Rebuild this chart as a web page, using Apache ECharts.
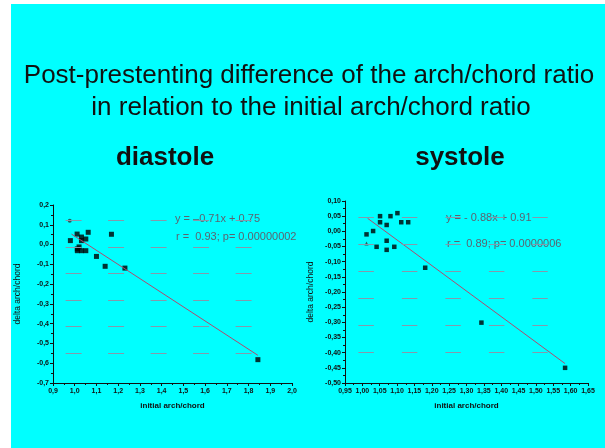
<!DOCTYPE html>
<html>
<head>
    <meta charset="utf-8">
    <title>arch/chord ratio</title>
    <script src="https://cdn.jsdelivr.net/npm/echarts@6/dist/echarts.min.js"></script>
    <style>
        body { margin: 0; background: #fff; }
    </style>
</head>
<body>
<div id="main" style="width: 605px;height:448px;"></div>
<script type="text/javascript">

    // diastole points (initial arch/chord, delta arch/chord)
    var diaX = [0.98, 1.011, 1.031, 1.051, 1.062, 1.031, 1.02, 1.012, 1.012, 1.031, 1.051, 1.10, 1.14, 1.169, 1.231, 1.843];
    var diaY = [0.02, 0.053, 0.038, 0.028, 0.062, 0.02, -0.012, -0.022, -0.031, -0.031, -0.031, -0.06, -0.11, 0.052, -0.119, -0.582];
    // systole points
    var sysX = [1.012, 1.031, 1.041, 1.051, 1.051, 1.070, 1.070, 1.070, 1.081, 1.092, 1.101, 1.112, 1.132, 1.181, 1.343, 1.584];
    var sysY = [-0.010, 0.001, -0.051, 0.050, 0.030, 0.021, -0.031, -0.061, 0.050, -0.051, 0.060, 0.030, 0.030, -0.120, -0.301, -0.450];
    // faint marks sitting on the dotted pattern
    var diaFaintX = [0.977], diaFaintY = [0.12];
    var sysFaintX = [1.012], sysFaintY = [-0.040];

    // regression lines as drawn
    var fitDiaX = [0.985, 1.843], fitDiaY = [0.053, -0.56];
    var fitSysX = [1.015, 1.584], fitSysY = [0.043, -0.436];

    // dotted background pattern rows
    var patDiaRows = [0.121, -0.014, -0.147, -0.282, -0.415, -0.548], patDiaSpan = [0.958, 1.815];
    var patSysRows = [0.048, -0.042, -0.130, -0.219, -0.310, -0.400], patSysSpan = [0.9885, 1.534];

    var dia = { xMin: 0.9, xMax: 2.0, xStep: 0.1, yMin: -0.7, yMax: 0.2, yStep: 0.1, dec: 1 };
    var sys = { xMin: 0.95, xMax: 1.65, xStep: 0.05, yMin: -0.5, yMax: 0.1, yStep: 0.05, dec: 2 };

    var eq = {
        dia: ['y = \u20130.71x + 0.75', 'r =  0.93; p= 0.00000002'],
        sys: ['y = - 0.88x + 0.91', 'r =  0.89; p= 0.0000006']
    };

    var patColor = '#8499ab';

    function zip(xs, ys) {
        return xs.map(function (x, i) { return [x, ys[i]]; });
    }

    function commaFmt(dec) {
        return function (v) {
            if (Math.abs(v) < 1e-9) v = 0;
            return v.toFixed(dec).replace('.', ',');
        };
    }

    function pattern(rows, span, dash) {
        var ls = {type: dash, color: patColor, width: 1, opacity: 1};
        return {
            silent: true,
            animation: false,
            symbol: ['none', 'none'],
            label: {show: false},
            itemStyle: {color: patColor},
            lineStyle: ls,
            emphasis: {disabled: true},
            data: rows.map(function (y) {
                return [{coord: [span[0], y], lineStyle: ls}, {coord: [span[1], y]}];
            })
        };
    }

    var axisLine = {show: true, onZero: false, lineStyle: {color: '#111', width: 1}};
    var tickFont = {color: '#111', fontSize: 7, fontWeight: 'bold', fontFamily: 'Liberation Sans'};

    function xAxis(idx, c) {
        return {
            type: 'value', gridIndex: idx,
            min: c.xMin, max: c.xMax, interval: c.xStep,
            name: 'initial arch/chord', nameLocation: 'middle', nameGap: 19,
            nameTextStyle: {color: '#111', fontSize: 8, fontWeight: 'bold', fontFamily: 'Liberation Sans'},
            axisLine: axisLine,
            axisTick: {show: true, length: 3, lineStyle: {color: '#111'}},
            minorTick: {show: true, splitNumber: 2, length: 2, lineStyle: {color: '#111'}},
            axisLabel: Object.assign({margin: 5, formatter: commaFmt(c.dec)}, tickFont),
            splitLine: {show: false}
        };
    }

    function yAxis(idx, c, gap) {
        return {
            type: 'value', gridIndex: idx,
            min: c.yMin, max: c.yMax, interval: c.yStep,
            name: 'delta arch/chord', nameLocation: 'middle', nameGap: gap, nameRotate: 90,
            nameTextStyle: {color: '#111', fontSize: 8.5, fontFamily: 'Liberation Sans'},
            axisLine: axisLine,
            axisTick: {show: true, length: 3, lineStyle: {color: '#111'}},
            minorTick: {show: true, splitNumber: 2, length: 2, lineStyle: {color: '#111'}},
            axisLabel: Object.assign({margin: 4, formatter: commaFmt(c.dec)}, tickFont),
            splitLine: {show: false}
        };
    }

    var fitColor = '#b04a6e';

    function eqText(x, y, s) {
        return {
            type: 'text', left: x, top: y, silent: true,
            style: {text: s, fill: '#5a6470', font: '11px "Liberation Sans"'}
        };
    }

    var option = {
        backgroundColor: '#ffffff',
        animation: false,
        graphic: [
            {type: 'rect', left: 11, top: 4, z: -10, silent: true,
                shape: {width: 594, height: 444}, style: {fill: '#00ffff'}},
            {type: 'text', x: 309, y: 63, silent: true,
                style: {text: 'Post-prestenting difference of the arch/chord ratio', textAlign: 'center',
                    fill: '#111', font: '26px "Liberation Sans"'}},
            {type: 'text', x: 311, y: 95, silent: true,
                style: {text: 'in relation to the initial arch/chord ratio', textAlign: 'center',
                    fill: '#111', font: '26px "Liberation Sans"'}},
            {type: 'text', x: 165, y: 145, silent: true,
                style: {text: 'diastole', textAlign: 'center', fill: '#111', font: 'bold 26px "Liberation Sans"'}},
            {type: 'text', x: 460, y: 145, silent: true,
                style: {text: 'systole', textAlign: 'center', fill: '#111', font: 'bold 26px "Liberation Sans"'}},
            eqText(175, 213, eq.dia[0]),
            eqText(176, 231, eq.dia[1]),
            eqText(446, 212, eq.sys[0]),
            eqText(447, 238, eq.sys[1])
        ],
        grid: [
            {left: 53, top: 205, right: 313, bottom: 65},
            {left: 345, top: 201, right: 17, bottom: 65}
        ],
        xAxis: [xAxis(0, dia), xAxis(1, sys)],
        yAxis: [yAxis(0, dia, 31), yAxis(1, sys, 30)],
        series: [
            {
                name: 'diastole', type: 'scatter', xAxisIndex: 0, yAxisIndex: 0,
                symbol: 'rect', symbolSize: 5, itemStyle: {color: '#000'},
                data: zip(diaX, diaY),
                markLine: pattern(patDiaRows, patDiaSpan, [16, 26.5])
            },
            {
                name: 'diastole faint', type: 'scatter', xAxisIndex: 0, yAxisIndex: 0,
                symbol: 'circle', symbolSize: 4, itemStyle: {color: '#333'},
                data: zip(diaFaintX, diaFaintY)
            },
            {
                name: 'diastole fit', type: 'line', xAxisIndex: 0, yAxisIndex: 0,
                showSymbol: false, silent: true,
                lineStyle: {color: fitColor, width: 1},
                data: zip(fitDiaX, fitDiaY)
            },
            {
                name: 'systole', type: 'scatter', xAxisIndex: 1, yAxisIndex: 1,
                symbol: 'rect', symbolSize: 4.5, itemStyle: {color: '#000'},
                data: zip(sysX, sysY),
                markLine: pattern(patSysRows, patSysSpan, [15.5, 28])
            },
            {
                name: 'systole faint', type: 'scatter', xAxisIndex: 1, yAxisIndex: 1,
                symbol: 'triangle', symbolSize: 4, itemStyle: {color: '#333'},
                data: zip(sysFaintX, sysFaintY)
            },
            {
                name: 'systole fit', type: 'line', xAxisIndex: 1, yAxisIndex: 1,
                showSymbol: false, silent: true,
                lineStyle: {color: fitColor, width: 1},
                data: zip(fitSysX, fitSysY)
            }
        ]
    };

    var myChart = echarts.init(document.getElementById('main'));
    myChart.setOption(option);

</script>
</body>
</html>
